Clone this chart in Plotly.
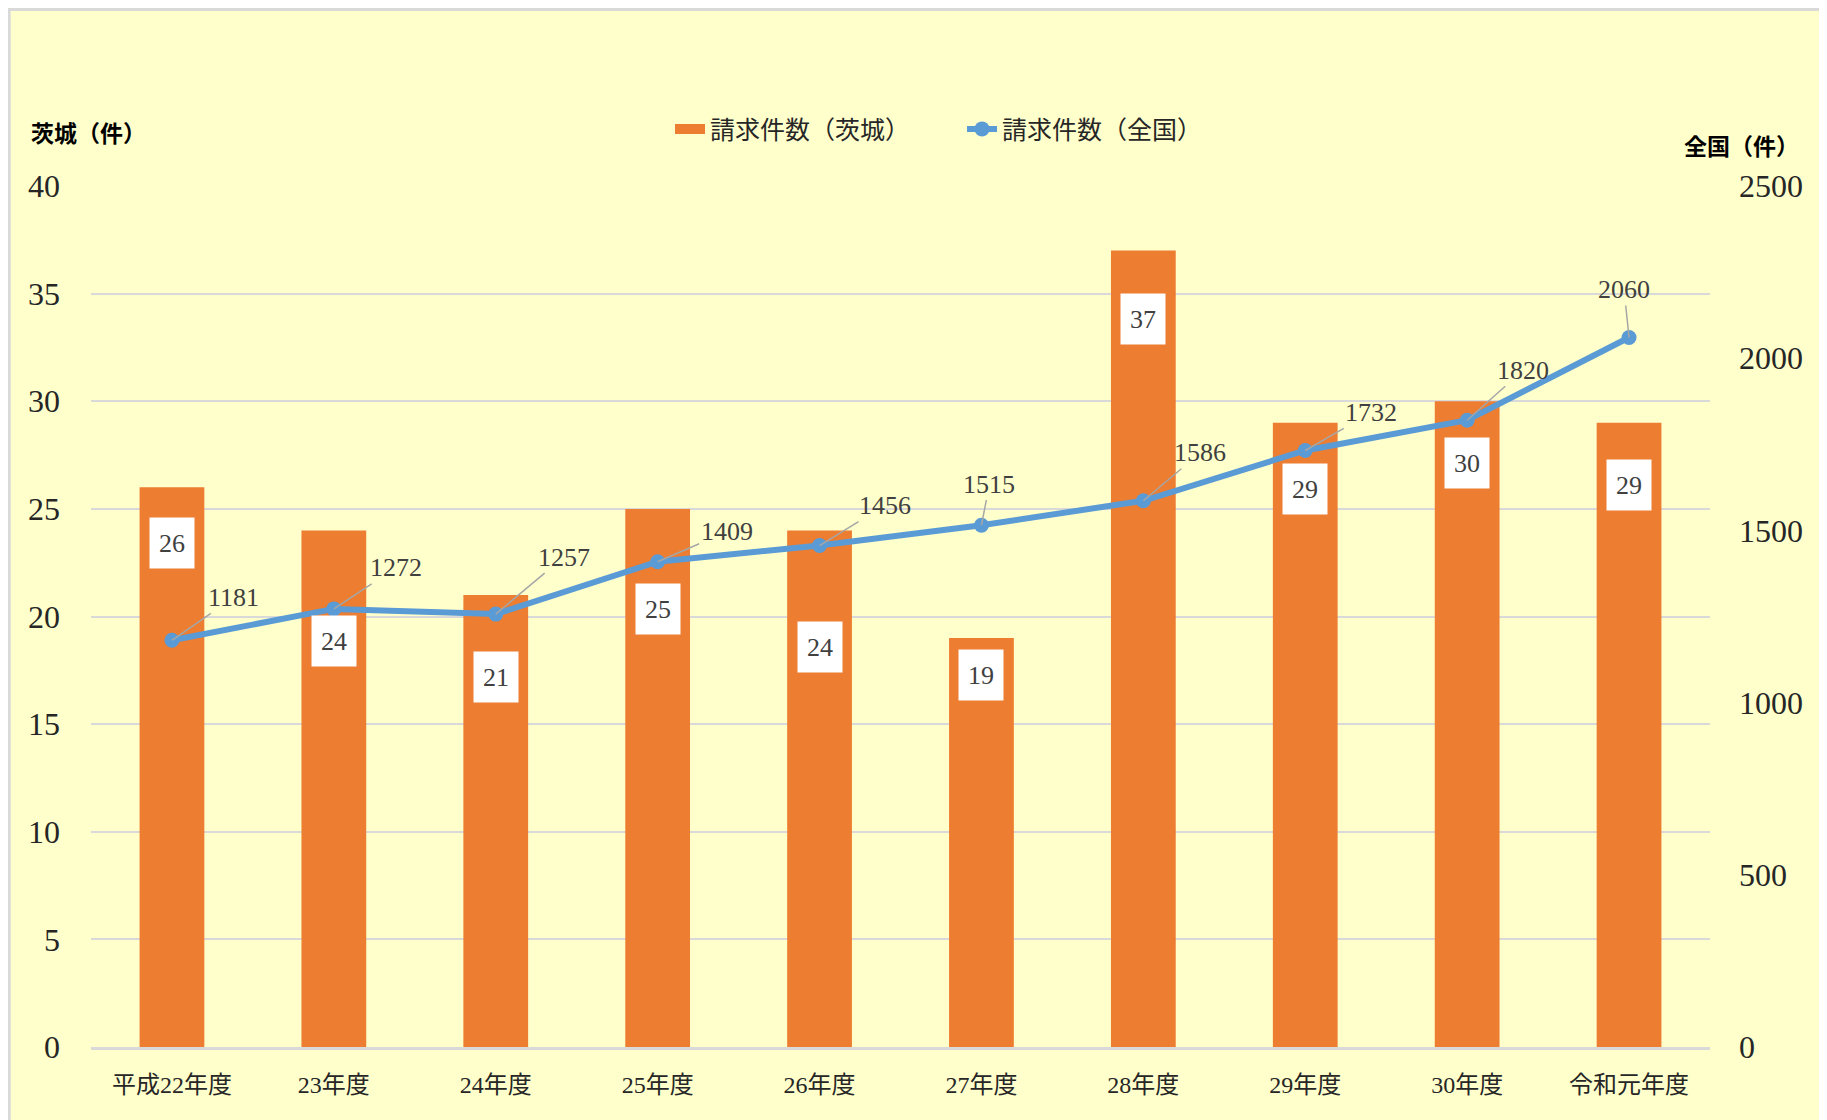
import plotly.graph_objects as go

categories = ["平成22年度", "23年度", "24年度", "25年度", "26年度", "27年度", "28年度", "29年度", "30年度", "令和元年度"]
ibaraki = [26, 24, 21, 25, 24, 19, 37, 29, 30, 29]
national = [1181, 1272, 1257, 1409, 1456, 1515, 1586, 1732, 1820, 2060]

# label placement offsets (pixels)
bar_label_drop = [56, 111, 82, 100, 117, 37, 68, 66, 62, 62]
label_dx = [62, 62, 68, 69, 65, 8, 57, 66, 56, -5]
label_dy = [-43, -41, -57, -30, -40, -41, -48, -38, -50, -48]

FONT = "Liberation Serif, 'Noto Sans CJK JP', serif"
ORANGE = "#ED7D31"
BLUE = "#5B9BD5"

fig = go.Figure()
fig.add_trace(go.Bar(x=categories, y=ibaraki, name="請求件数（茨城）", showlegend=False,
                     marker=dict(color=ORANGE, line=dict(width=0)), width=0.4))
# legend entry for the bars (wide swatch)
fig.add_trace(go.Scatter(x=[None], y=[None], name="請求件数（茨城）", mode="lines",
                         line=dict(color=ORANGE, width=14), legendrank=1))
fig.add_trace(go.Scatter(x=categories, y=national, name="請求件数（全国）", yaxis="y2",
                         mode="lines+markers", line=dict(color=BLUE, width=6),
                         marker=dict(color=BLUE, size=15), legendrank=2))

annotations = []
for c, v, d in zip(categories, ibaraki, bar_label_drop):
    annotations.append(dict(x=c, y=v, xref="x", yref="y", text=str(v), showarrow=False,
                            yshift=-d, bgcolor="white", width=42, height=48,
                            font=dict(family=FONT, size=26, color="#404040")))
for c, v, dx, dy in zip(categories, national, label_dx, label_dy):
    annotations.append(dict(x=c, y=v, xref="x", yref="y2", text=str(v), showarrow=True,
                            arrowhead=0, arrowwidth=1.5, arrowcolor="#A6A6A6",
                            ax=dx, ay=dy, standoff=0,
                            font=dict(family=FONT, size=26, color="#404040")))
annotations.append(dict(x=-0.0383, y=1.060, xref="paper", yref="paper", text="<b>茨城（件）</b>",
                        showarrow=False, xanchor="left", yanchor="middle",
                        font=dict(family=FONT, size=23, color="black")))
annotations.append(dict(x=0.983, y=1.045, xref="paper", yref="paper", text="<b>全国（件）</b>",
                        showarrow=False, xanchor="left", yanchor="middle",
                        font=dict(family=FONT, size=23, color="black")))

fig.update_layout(
    width=1819, height=1112,
    margin=dict(l=83, r=117, t=178, b=73),
    paper_bgcolor="white",
    plot_bgcolor="#FBE4D5",
    showlegend=True,
    legend=dict(orientation="h", x=0.538, xanchor="center", y=1.066, yanchor="middle",
                bgcolor="rgba(0,0,0,0)", font=dict(family=FONT, size=25, color="#262626"),
                entrywidth=247, entrywidthmode="pixels", traceorder="normal"),
    xaxis=dict(range=[-0.5, 9.5], showgrid=False, showline=True, linecolor="#D9D9D9", linewidth=3,
               tickfont=dict(family=FONT, size=24, color="#262626"), ticks="",
               ticklabelstandoff=14),
    yaxis=dict(range=[0, 40], dtick=5, showgrid=True, gridcolor="#D9D9D9", gridwidth=2,
               zeroline=False, tickfont=dict(family=FONT, size=32, color="#262626"),
               ticklabelstandoff=30),
    yaxis2=dict(range=[0, 2500], dtick=500, overlaying="y", side="right", showgrid=False,
                zeroline=False, tickfont=dict(family=FONT, size=32, color="#262626"),
                ticklabelstandoff=28),
    annotations=annotations,
    shapes=[dict(type="rect", xref="paper", yref="paper", x0=-0.0505, x1=1.08, y0=-0.1, y1=1.2050,
                 fillcolor="#FFFFCC", line=dict(color="#D9D9D9", width=3), layer="below")],
)

fig.write_html("out.html")
